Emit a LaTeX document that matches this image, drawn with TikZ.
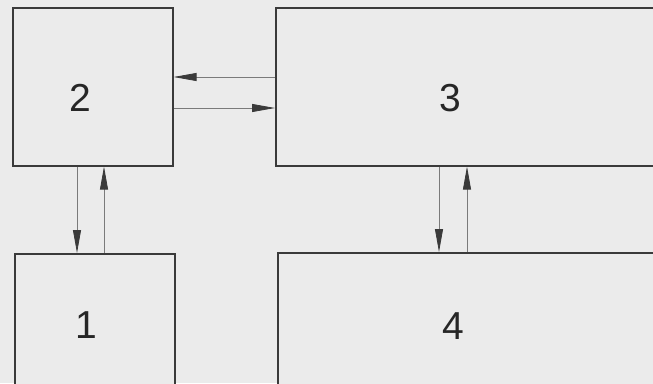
\documentclass[tikz,border=0pt]{standalone}
\usepackage{fontspec}
\setmainfont{Liberation Sans}
\usetikzlibrary{arrows.meta}
\definecolor{bg}{HTML}{EBEBEB}
\definecolor{boxline}{HTML}{3A3A3A}
\definecolor{arrline}{HTML}{7A7A7A}
\begin{document}
\begin{tikzpicture}[x=1pt,y=1pt,
  blk/.style={draw=boxline, line width=1.6pt, fill=bg, inner sep=0pt, anchor=north west},
  lbl/.style={font=\fontsize{39}{42}\selectfont, text=black!85, inner sep=0pt},
  arr/.style={draw=arrline, line width=0.8pt, -{Triangle[length=23pt,width=8pt,color=boxline]}}]
\clip (0,0) rectangle (653,-383);
\fill[bg] (0,0) rectangle (653,-383);
\node[blk, minimum width=160pt, minimum height=158pt] (b2) at (12,-7) {};
\node[blk, minimum width=400pt, minimum height=158pt] (b3) at (275,-7) {};
\node[blk, minimum width=160pt, minimum height=200pt] (b1) at (14,-253) {};
\node[blk, minimum width=400pt, minimum height=200pt] (b4) at (277,-252) {};
\node[lbl] (t2) at (80,-98) {2};
\node[lbl] (t3) at (450,-98) {3};
\node[lbl] (t1) at (86,-325) {1};
\node[lbl] (t4) at (453,-326) {4};
\draw[arr] (b3.west |- 0,-77) -- (b2.east |- 0,-77);
\draw[arr] (b2.east |- 0,-108) -- (b3.west |- 0,-108);
\draw[arr] (b2.south -| 77,0) -- (b1.north -| 77,0);
\draw[arr] (b1.north -| 104,0) -- (b2.south -| 104,0);
\draw[arr] (b3.south -| 439,0) -- (b4.north -| 439,0);
\draw[arr] (b4.north -| 467,0) -- (b3.south -| 467,0);
\end{tikzpicture}
\end{document}
